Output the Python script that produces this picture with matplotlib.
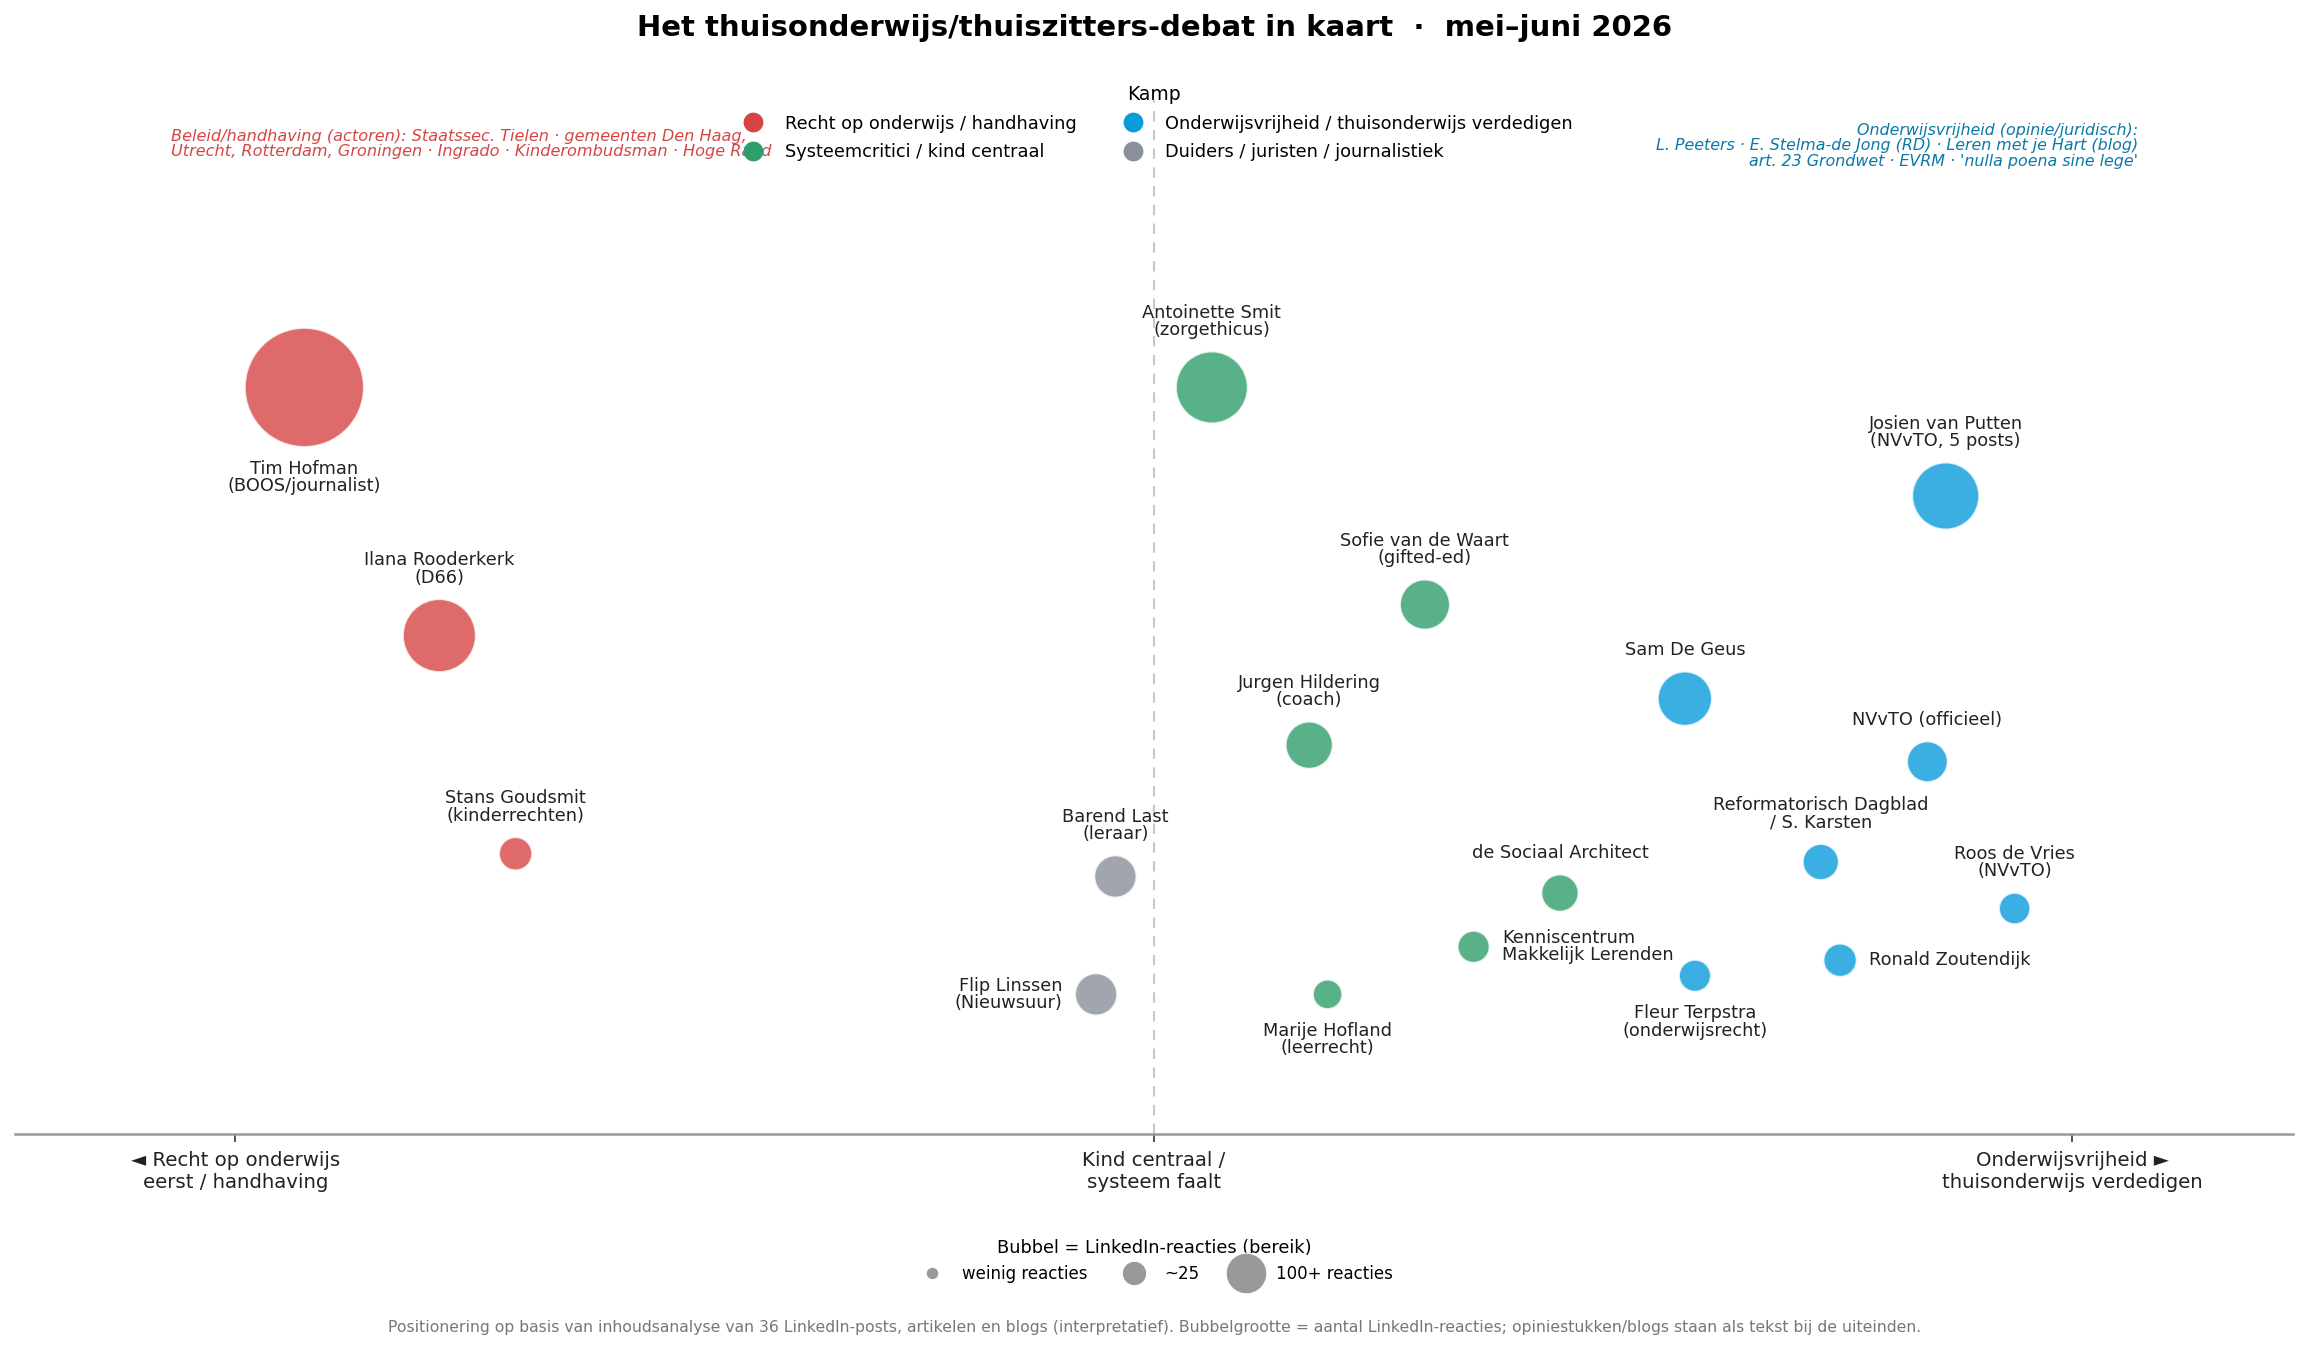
import numpy as np
import matplotlib
matplotlib.use("Agg")
import matplotlib.pyplot as plt
from matplotlib.lines import Line2D

# --- data (positie: -1 = handhaving, 0 = kind centraal, 1 = onderwijsvrijheid) ---
namen = [
    "Tim Hofman\n(BOOS/journalist)",
    "Ilana Rooderkerk\n(D66)",
    "Stans Goudsmit\n(kinderrechten)",
    "Antoinette Smit\n(zorgethicus)",
    "Sofie van de Waart\n(gifted-ed)",
    "Jurgen Hildering\n(coach)",
    "de Sociaal Architect",
    "Kenniscentrum\nMakkelijk Lerenden",
    "Marije Hofland\n(leerrecht)",
    "Josien van Putten\n(NVvTO, 5 posts)",
    "Sam De Geus",
    "NVvTO (officieel)",
    "Reformatorisch Dagblad\n/ S. Karsten",
    "Roos de Vries\n(NVvTO)",
    "Ronald Zoutendijk",
    "Fleur Terpstra\n(onderwijsrecht)",
    "Barend Last\n(leraar)",
    "Flip Linssen\n(Nieuwsuur)",
]
kamp = [
    "handhaving", "handhaving", "handhaving",
    "systeem", "systeem", "systeem", "systeem", "systeem", "systeem",
    "vrijheid", "vrijheid", "vrijheid", "vrijheid", "vrijheid", "vrijheid", "vrijheid",
    "duider", "duider",
]
positie_x = [-0.925, -0.778, -0.695, 0.063, 0.295, 0.169, 0.442, 0.348, 0.189,
             0.862, 0.578, 0.842, 0.726, 0.937, 0.747, 0.589, -0.042, -0.063]
positie_y = [0.722, 0.482, 0.271, 0.722, 0.512, 0.376, 0.233, 0.181, 0.135,
             0.617, 0.421, 0.360, 0.263, 0.218, 0.168, 0.153, 0.249, 0.135]
reacties = [353, 131, 25, 127, 60, 53, 32, 23, 19,
            110, 71, 39, 30, 22, 25, 23, 42, 42]
label_plek = ["onder", "boven", "boven", "boven", "boven", "boven", "boven", "rechts", "onder",
              "boven", "boven", "boven", "boven", "boven", "rechts", "onder", "boven", "links"]

kamp_labels = {
    "handhaving": "Recht op onderwijs / handhaving",
    "systeem": "Systeemcritici / kind centraal",
    "vrijheid": "Onderwijsvrijheid / thuisonderwijs verdedigen",
    "duider": "Duiders / juristen / journalistiek",
}
kamp_kleur = {
    "handhaving": "#D64545",
    "systeem": "#2E9E6B",
    "vrijheid": "#0A9BDB",
    "duider": "#8A8F99",
}

as_ticks = [-1, 0, 1]
as_labels = ["◄ Recht op onderwijs\neerst / handhaving",
             "Kind centraal /\nsysteem faalt",
             "Onderwijsvrijheid ►\nthuisonderwijs verdedigen"]

grootte_legenda = ["weinig reacties", "~25", "100+ reacties"]


def bubbel(r):
    return 25 + 9.2 * np.asarray(r, dtype=float)


fig = plt.figure(figsize=(15.4, 9.02), dpi=150)
ax = fig.add_axes([0.0065, 0.1619, 0.9861, 0.7642])

ax.axvline(0, color="#c8c8c8", ls=(0, (5, 4)), lw=1, zorder=0)

sizes = bubbel(reacties)
for k in kamp_labels:
    idx = [i for i, c in enumerate(kamp) if c == k]
    ax.scatter([positie_x[i] for i in idx], [positie_y[i] for i in idx],
               s=sizes[idx], color=kamp_kleur[k], alpha=0.8,
               edgecolor="white", linewidth=1, zorder=3)

for i, naam in enumerate(namen):
    r = np.sqrt(sizes[i]) / 2
    plek = label_plek[i]
    if plek == "boven":
        off, ha, va = (0, r + 6), "center", "bottom"
    elif plek == "onder":
        off, ha, va = (0, -(r + 6)), "center", "top"
    elif plek == "links":
        off, ha, va = (-(r + 6), 0), "right", "center"
    else:
        off, ha, va = (r + 6, 0), "left", "center"
    ax.annotate(naam, (positie_x[i], positie_y[i]), xytext=off,
                textcoords="offset points", ha=ha, va=va, fontsize=8.5,
                color="#222222", multialignment=ha if ha != "center" else "center",
                linespacing=0.95, zorder=4)

ax.text(0.0685, 0.972,
        "Beleid/handhaving (actoren): Staatssec. Tielen · gemeenten Den Haag,\n"
        "Utrecht, Rotterdam, Groningen · Ingrado · Kinderombudsman · Hoge Raad",
        transform=ax.transAxes, ha="left", va="top", fontsize=7.75, style="italic",
        color="#D64545", linespacing=1.0, zorder=2)
ax.text(0.932, 0.978,
        "Onderwijsvrijheid (opinie/juridisch):\n"
        "L. Peeters · E. Stelma-de Jong (RD) · Leren met je Hart (blog)\n"
        "art. 23 Grondwet · EVRM · 'nulla poena sine lege'",
        transform=ax.transAxes, ha="right", va="top", fontsize=7.6, style="italic",
        color="#0B78A8", linespacing=1.05, zorder=2)

ax.set_xlim(-1.24, 1.24)
ax.set_ylim(0, 1)
ax.set_xticks(as_ticks)
ax.set_xticklabels(as_labels, fontsize=9.5, color="#222222")
ax.set_yticks([])
for s in ["top", "left", "right"]:
    ax.spines[s].set_visible(False)
ax.spines["bottom"].set_color("#999999")
ax.spines["bottom"].set_linewidth(1.2)
ax.tick_params(axis="x", length=4, width=0.8, color="#333333", pad=4)

kamp_handles = [Line2D([], [], marker="o", ls="", markersize=9.5,
                       markerfacecolor=kamp_kleur[k], markeredgecolor="none",
                       label=kamp_labels[k]) for k in kamp_labels]
leg1 = ax.legend(handles=kamp_handles, title="Kamp", loc="upper center",
                 bbox_to_anchor=(0.5, 1.03), ncol=2, frameon=False,
                 fontsize=8.5, title_fontsize=9, handletextpad=0.8,
                 columnspacing=2.2, labelspacing=0.6)
ax.add_artist(leg1)

grootte_handles = [Line2D([], [], marker="o", ls="", markersize=m,
                          markerfacecolor="#999999", markeredgecolor="white",
                          markeredgewidth=0.5, label=l)
                   for m, l in zip([6, 11.7, 19.5], grootte_legenda)]
ax.legend(handles=grootte_handles, title="Bubbel = LinkedIn-reacties (bereik)",
          loc="upper center", bbox_to_anchor=(0.5, -0.09), ncol=3, frameon=False,
          fontsize=8, title_fontsize=8.5, handletextpad=0.8, columnspacing=1.8,
          borderpad=0.2)

fig.suptitle("Het thuisonderwijs/thuiszitters-debat in kaart  ·  mei–juni 2026",
             fontsize=14, fontweight="bold", y=0.99)
fig.text(0.5, 0.019,
         "Positionering op basis van inhoudsanalyse van 36 LinkedIn-posts, artikelen en blogs "
         "(interpretatief). Bubbelgrootte = aantal LinkedIn-reacties; opiniestukken/blogs "
         "staan als tekst bij de uiteinden.",
         ha="center", va="center", fontsize=7.5, color="#777777")

fig.savefig("out.png", dpi=150)
